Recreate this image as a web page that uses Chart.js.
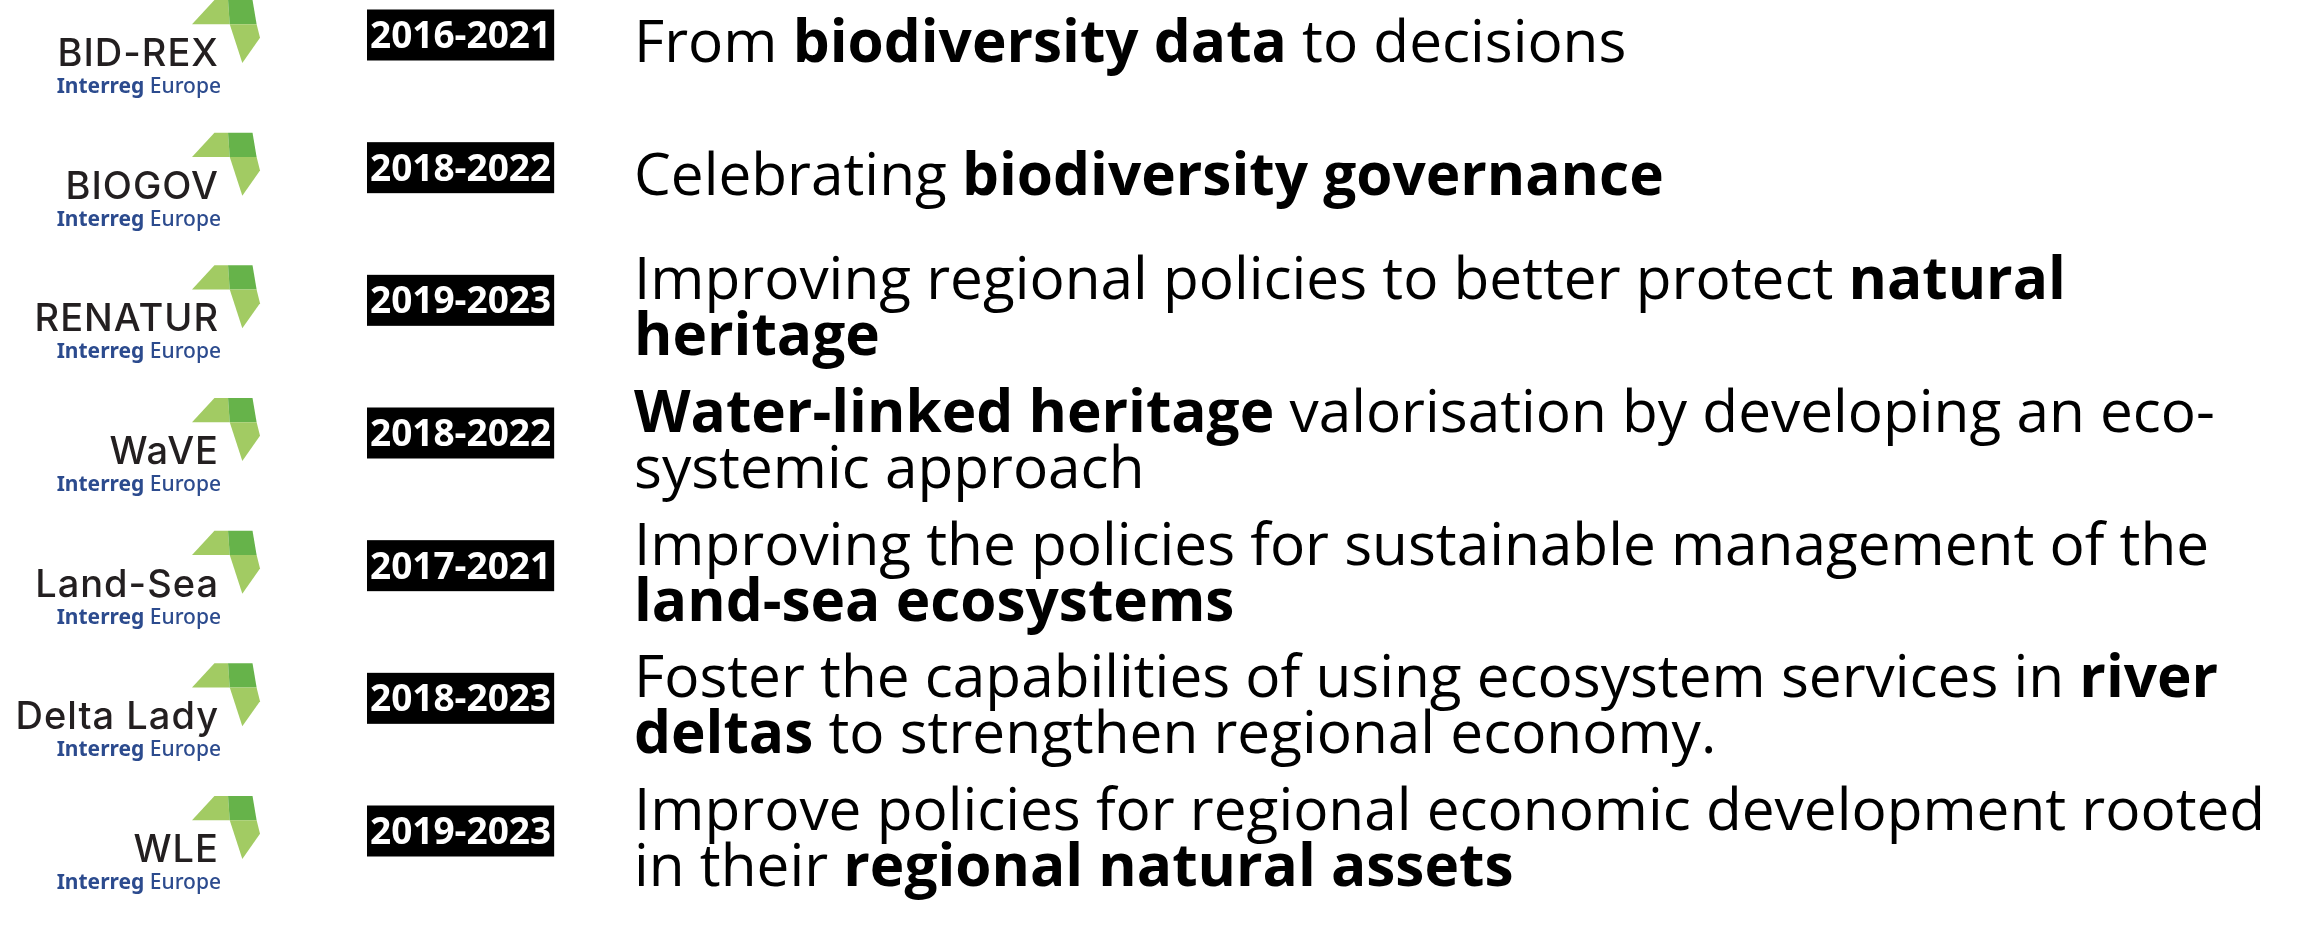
<!DOCTYPE html>
<html>
<head>
<meta charset="utf-8">
<script src="https://cdn.jsdelivr.net/npm/chart.js@4.4.1/dist/chart.umd.min.js"></script>
<style>
  html, body { margin: 0; padding: 0; background: #fff; }
  #wrap { width: 2303px; height: 928px; }
</style>
</head>
<body>
<div id="wrap"><canvas id="projectsChart"></canvas></div>
<script>
// project rows, top to bottom
const projects = ['BID-REX', 'BIOGOV', 'RENATUR', 'WaVE', 'Land-Sea', 'Delta Lady', 'WLE'];
const programme = ['Interreg', 'Europe'];
const periods = ['2016-2021', '2018-2022', '2019-2023', '2018-2022', '2017-2021', '2018-2023', '2019-2023'];
// **...** = bold part, \n = line break as in the slide
const descriptions = [
  'From **biodiversity data** to decisions',
  'Celebrating **biodiversity governance**',
  'Improving regional policies to better protect **natural**\n**heritage**',
  '**Water-linked heritage** valorisation by developing an eco-\nsystemic approach',
  'Improving the policies for sustainable management of the\n**land-sea ecosystems**',
  'Foster the capabilities of using ecosystem services in **river**\n**deltas** to strengthen regional economy.',
  'Improve policies for regional economic development rooted\nin their **regional natural assets**'
];

const LIGHT = '#a2cb63';
const DARK = '#66b34a';

function drawIcon(ctx, x, y, w, h) {
  const poly = (pts, color) => {
    ctx.beginPath();
    pts.forEach((p, k) => {
      const px = x + p[0] * w, py = y + p[1] * h;
      k ? ctx.lineTo(px, py) : ctx.moveTo(px, py);
    });
    ctx.closePath();
    ctx.fillStyle = color;
    ctx.fill();
  };
  poly([[0, 0.385], [0.33, 0], [0.53, 0], [0.555, 0.385]], LIGHT);
  poly([[0.53, 0], [0.89, 0], [0.95, 0.385], [0.555, 0.385]], DARK);
  poly([[0.555, 0.385], [0.95, 0.385], [1, 0.6], [0.74, 1]], LIGHT);
}

function drawRich(ctx, text, x, y, size) {
  let cx = x;
  text.split('**').forEach((part, k) => {
    if (!part) return;
    ctx.font = (k % 2 ? 'bold ' : '') + size + 'px "Open Sans"';
    ctx.fillText(part, cx, y);
    cx += ctx.measureText(part).width;
  });
}

const rowsPlugin = {
  id: 'rows',
  afterDraw(chart) {
    const ctx = chart.ctx;
    const yScale = chart.scales.y;
    ctx.save();
    ctx.textBaseline = 'alphabetic';
    projects.forEach((name, i) => {
      const cy = yScale.getPixelForValue(i);

      // logo: icon + wordmark + programme line
      const R = 219;
      const base = cy + 28;
      drawIcon(ctx, R - 27, base - 66, 68, 63);
      ctx.fillStyle = '#231f20';
      ctx.textAlign = 'right';
      ctx.font = '500 38px Inter';
      ctx.letterSpacing = '1px';
      ctx.fillText(name, R, base);
      ctx.letterSpacing = '0px';
      ctx.fillStyle = '#2c4b8e';
      ctx.font = '500 21px "Noto Sans"';
      ctx.fillText(programme[1], R + 2, base + 27);
      const ew = ctx.measureText(' ' + programme[1]).width;
      ctx.font = 'bold 21px "Noto Sans"';
      ctx.fillText(programme[0], R + 2 - ew, base + 27);

      // period badge
      ctx.textAlign = 'left';
      ctx.font = 'bold 37px "Open Sans"';
      const bw = ctx.measureText(periods[i]).width + 6;
      const by0 = cy - 3;
      ctx.fillStyle = '#000';
      ctx.fillRect(367, by0 - 25.5, bw, 51);
      ctx.fillStyle = '#fff';
      ctx.fillText(periods[i], 370, by0 + 13);

      // description
      const lines = descriptions[i].split('\n');
      const size = 58.5, lh = 56;
      let by = cy + 3 - (lines.length - 1) * lh / 2 + size * 0.357;
      ctx.fillStyle = '#000';
      lines.forEach(line => {
        drawRich(ctx, line, 634, by, size);
        by += lh;
      });
    });
    ctx.restore();
  }
};

new Chart(document.getElementById('projectsChart'), {
  type: 'bar',
  data: { labels: projects, datasets: [] },
  options: {
    indexAxis: 'y',
    responsive: true,
    maintainAspectRatio: false,
    animation: false,
    layout: { padding: { top: 38, bottom: 94, left: 0, right: 0 } },
    plugins: { legend: { display: false }, tooltip: { enabled: false } },
    scales: {
      y: { type: 'category', offset: false, display: false },
      x: { display: false }
    }
  },
  plugins: [rowsPlugin]
});
</script>
</body>
</html>
